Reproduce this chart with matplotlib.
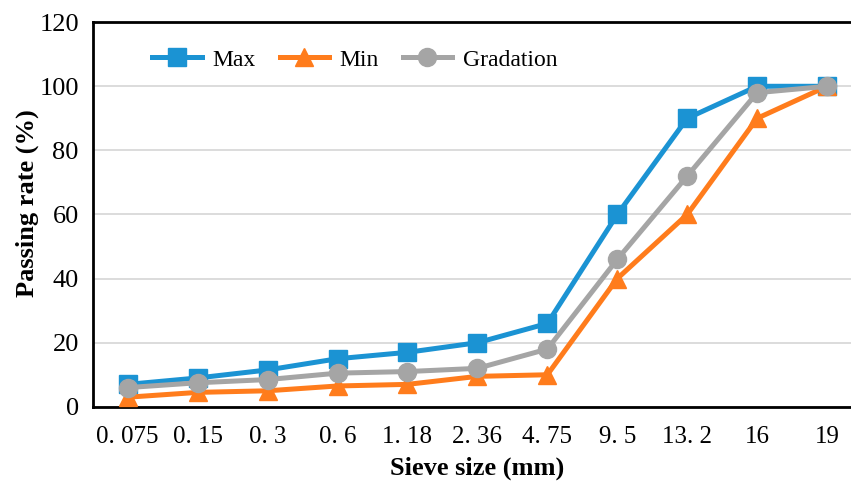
import matplotlib.pyplot as plt

# sieve sizes and passing rates (%)
sieve = ['0. 075', '0. 15', '0. 3', '0. 6', '1. 18', '2. 36', '4. 75', '9. 5', '13. 2', '16', '19']
max_pass = [7, 9, 11.5, 15, 17, 20, 26, 60, 90, 100, 100]
min_pass = [3, 4.5, 5, 6.5, 7, 9.5, 10, 40, 60, 90, 100]
gradation = [6, 7.5, 8.5, 10.5, 11, 12, 18, 46, 72, 98, 100]

plt.rcParams['font.family'] = ['Liberation Serif', 'DejaVu Serif']

fig = plt.figure(figsize=(8.51, 4.82), dpi=100)
ax = fig.add_axes([0.109, 0.156, 0.904, 0.798])

x = range(len(sieve))
ax.plot(x, max_pass, color='#1b93d3', lw=3.6, marker='s', ms=13, label='Max', zorder=3)
ax.plot(x, min_pass, color='#ff7c1c', lw=3.6, marker='^', ms=13, label='Min', zorder=3)
ax.plot(x, gradation, color='#a5a5a5', lw=3.6, marker='o', ms=13, label='Gradation', zorder=4)

ax.set_xlim(-0.5, 10.5)
ax.set_ylim(0, 120)
ax.set_yticks(range(0, 121, 20))
ax.set_xticks(list(x))
ax.set_xticklabels(sieve)
ax.tick_params(axis='x', length=0, labelsize=18, pad=14)
ax.tick_params(axis='y', length=0, labelsize=19, pad=10)
ax.yaxis.grid(True, color='#d9d9d9', lw=1.3)
ax.set_axisbelow(True)
for s in ax.spines.values():
    s.set_linewidth(2)
    s.set_color('black')

ax.set_xlabel('Sieve size (mm)', fontsize=19, fontweight='bold', labelpad=6)
ax.set_ylabel('Passing rate (%)', fontsize=19, fontweight='bold')
ax.yaxis.set_label_coords(-0.07, 0.53)

ax.legend(loc='upper left', bbox_to_anchor=(0.05, 0.985), ncol=3, frameon=False,
          fontsize=17, handlelength=2.1, columnspacing=1.0, handletextpad=0.45)

fig.savefig('out.png')
